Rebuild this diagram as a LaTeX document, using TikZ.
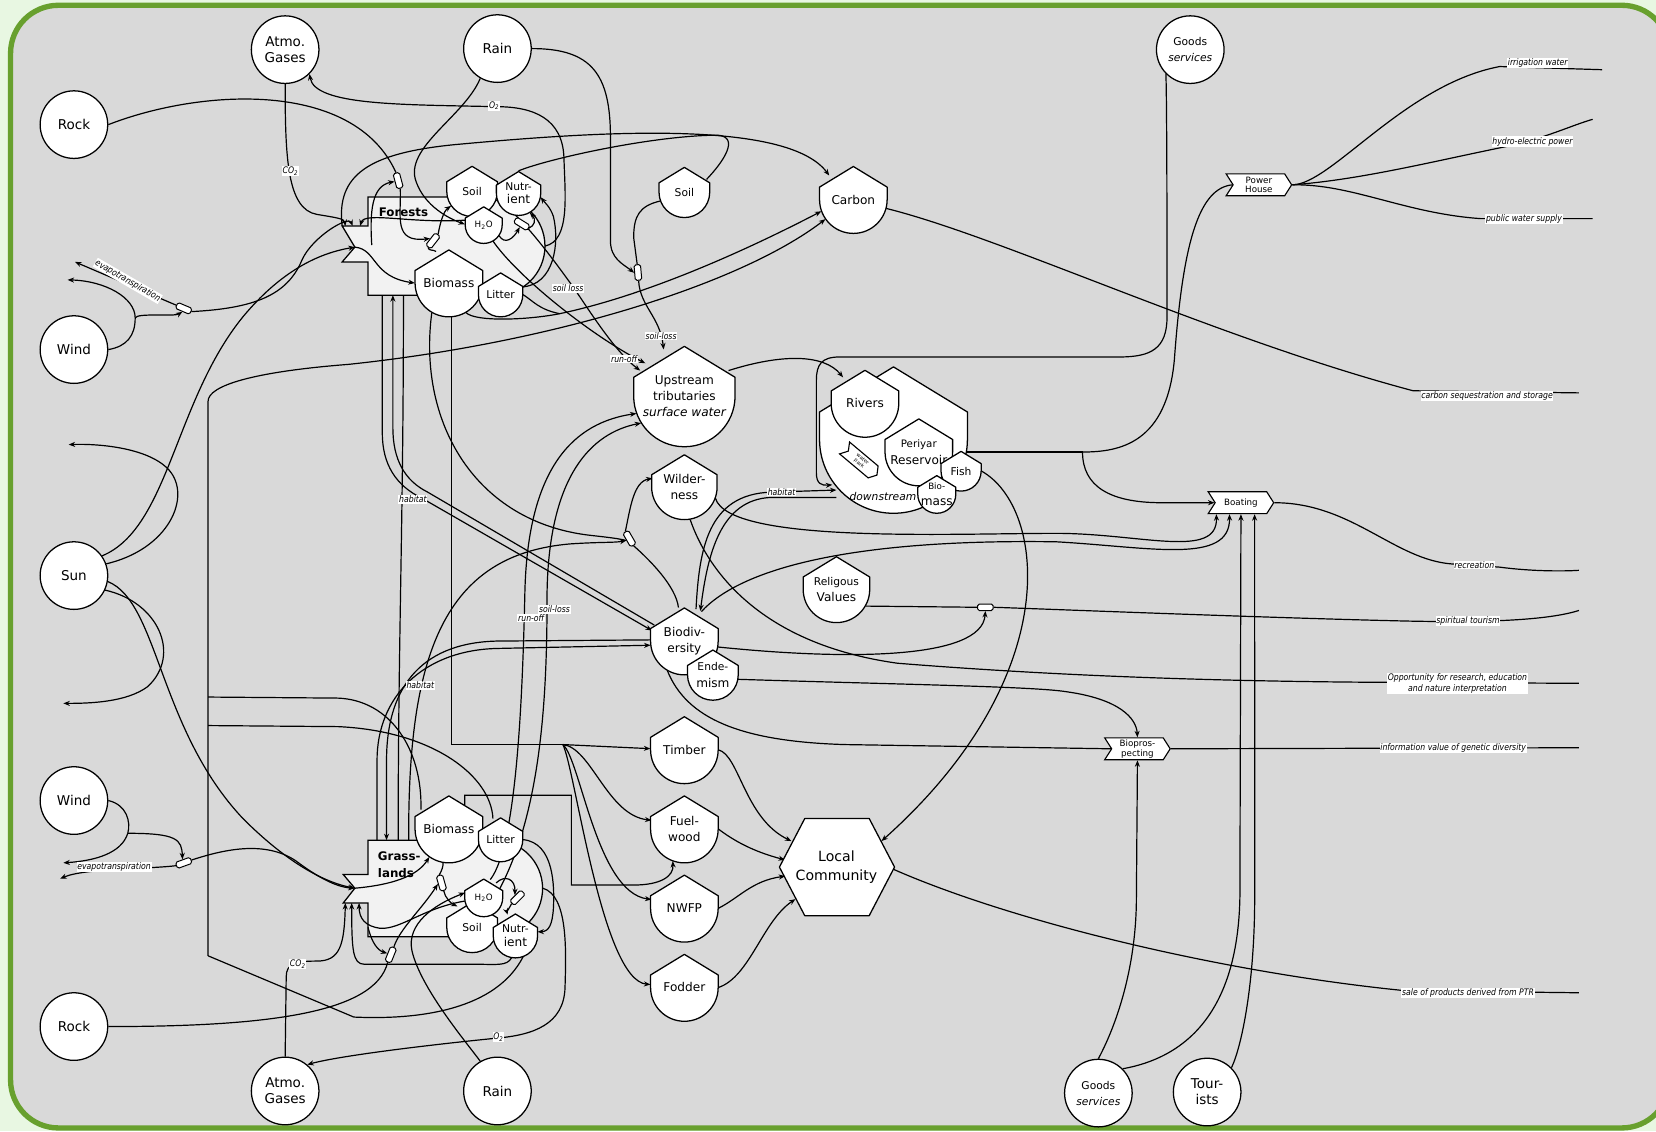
\documentclass[tikz,border=0pt]{standalone}
\usepackage{fontspec}
\setmainfont{DejaVu Sans}
\newfontfamily\narrowfont{DejaVu Sans}[FakeStretch=0.86]
\usetikzlibrary{arrows.meta,shapes.symbols}

\definecolor{panel}{RGB}{217,217,217}
\definecolor{framegreen}{RGB}{104,160,46}
\definecolor{outside}{RGB}{232,247,226}
\definecolor{prodfill}{RGB}{242,242,242}

\newcommand{\srcfont}{\fontsize{9.6}{11.4}\selectfont}
\newcommand{\tankfont}{\fontsize{8.6}{11.6}\selectfont}
\newcommand{\smfont}{\fontsize{7.6}{9}\selectfont}
\newcommand{\xfont}{\fontsize{6.2}{6.9}\selectfont}
\newcommand{\labfont}{\narrowfont\itshape\fontsize{6.4}{7.4}\selectfont}

\pgfdeclarelayer{back}
\pgfdeclarelayer{wires}
\pgfsetlayers{back,wires,main}

\tikzset{
  flow/.style={line width=0.85pt},
  arr/.style={flow, -{Stealth[length=4.6pt, width=3.6pt]}},
  src/.style={circle, draw, line width=0.9pt, fill=white, minimum size=48pt, inner sep=0pt, align=center, font=\srcfont},
  tankline/.style={draw, line width=0.9pt, fill=white, line join=round},
  tanktxt/.style={circle, inner sep=0pt, align=center, font=\tankfont},
  valve/.style={draw, line width=0.7pt, fill=white, rounded corners=1.2pt, minimum width=11pt, minimum height=4.6pt, inner sep=0pt},
  xchg/.style={signal, signal to=east, signal from=west, signal pointer angle=115, draw, line width=0.8pt, fill=white, minimum width=46.5pt, minimum height=15.5pt, inner sep=0.3pt, align=center, font=\xfont},
  lab/.style={fill=white, inner sep=0.5pt, font=\labfont},
  prod/.style={draw, line width=0.9pt, fill=prodfill},
}

% storage tank: name, x, y (centre of the round bottom), half width, text
\newcommand{\tank}[5]{%
  \path[tankline] (#2-#4,#3) -- (#2-#4,#3-0.37*#4) -- (#2,#3-0.98*#4) -- (#2+#4,#3-0.37*#4) -- (#2+#4,#3) arc[start angle=0, end angle=180, radius=#4] -- cycle;
  \node[tanktxt, minimum size=1.5*#4pt] (#1) at (#2,#3) {#5};%
}

\begin{document}
\begin{tikzpicture}[x=0.75pt,y=0.75pt,yscale=-1,xscale=1]
\useasboundingbox (0,0) rectangle (1568,1071);

\begin{pgfonlayer}{back}
  \fill[outside] (0,0) rectangle (1568,1071);
  \draw[draw=framegreen, fill=panel, line width=3.8pt, rounded corners=34pt] (10,5) rectangle (1581,1068);
  %Forests producer
  \path[prod] (348.5,186.5) -- (469.5,186.5) arc[start angle=-90, end angle=90, radius=46.5] -- (348.5,279.5) -- (348.5,248) -- (324,248) -- (336,234) -- (324,214) -- (348.5,214) -- cycle;
  %Grasslands producer
  \path[prod] (348.5,795.5) -- (468,795.5) arc[start angle=-90, end angle=90, radius=45.75] -- (348.5,887) -- (348.5,855) -- (325,855) -- (336,841) -- (325,828) -- (348.5,828) -- cycle;
\end{pgfonlayer}

\node[font=\bfseries\fontsize{8.4}{10}\selectfont] (forestLbl) at (382,201) {Forests};
\node[font=\bfseries\fontsize{8.4}{12}\selectfont, align=left] (grassLbl) at (378,819) {Grass-\\lands};

%ports of the producers
\coordinate (fArc) at (324,214);
\coordinate (fN1) at (327,214);
\coordinate (fN2) at (334,214);
\coordinate (fN3) at (341,214);
\coordinate (fP) at (336,234);
\coordinate (fIn) at (352,232);
\coordinate (fB1) at (362,279.5);
\coordinate (fB2) at (372,279.5);
\coordinate (fB3) at (382,279.5);
\coordinate (fO2) at (516,233);
\coordinate (gT1) at (357,795.5);
\coordinate (gT2) at (366,795.5);
\coordinate (gT3) at (377,795.5);
\coordinate (gT4) at (387,795.5);
\coordinate (gP) at (336,841);
\coordinate (gN1) at (327,855);
\coordinate (gN2) at (333,855);
\coordinate (gN3) at (340,855);
\coordinate (gIn) at (348.5,878);
\coordinate (gO2) at (514,841);
\coordinate (gR) at (440,762);

%Sources
\node[src] (atmoT) at (270,47) {Atmo.\\Gases};
\node[src] (rainT) at (471,46) {Rain};
\node[src] (rockT) at (70,118) {Rock};
\node[src] (windT) at (70,331) {Wind};
\node[src] (sun) at (70,545) {Sun};
\node[src] (windB) at (70,758) {Wind};
\node[src] (rockB) at (70,972) {Rock};
\node[src] (atmoB) at (270,1033) {Atmo.\\Gases};
\node[src] (rainB) at (471,1033) {Rain};
\node[src] (goodsT) at (1127,47) {{\smfont Goods}\\{\smfont\itshape services}};
\node[src] (goodsB) at (1040,1035) {{\smfont Goods}\\{\smfont\itshape services}};
\node[src] (tourists) at (1143,1034) {Tour-\\ists};

%Forest storages
\tank{soilF}{447}{181}{24}{\smfont Soil}
\tank{nutF}{491}{183}{21}{\smfont Nutr-\\[-2pt]ient}
\tank{h2oF}{458}{213}{17.5}{\xfont H\textsubscript{2}O}
\tank{bioF}{425}{268}{32}{Biomass}
\tank{litF}{474}{279}{21}{\smfont Litter}

%Grassland storages
\tank{bioG}{425}{785}{32}{Biomass}
\tank{litG}{474}{795}{21}{\smfont Litter}
\tank{soilG}{447}{878}{24}{\smfont Soil}
\tank{nutG}{488}{886}{21}{\smfont Nutr-\\[-2pt]ient}
\tank{h2oG}{458}{850}{18}{\xfont H\textsubscript{2}O}

%Middle storages
\tank{carbon}{808}{189}{32}{Carbon}
\tank{soilM}{648}{182}{24}{\smfont Soil}
\tank{upstream}{648}{375}{48}{Upstream\\tributaries\\{\itshape surface water}}
\tank{wild}{648}{461}{31}{Wilder-\\ness}
\tank{biodiv}{648}{607}{32}{Biodiv-\\ersity}
\tank{endem}{675}{639}{24}{\smfont Ende-\\mism}
\tank{relig}{792}{558}{31.5}{\smfont Religous\\Values}
\tank{timber}{648}{710}{32}{Timber}
\tank{fuel}{648}{785}{32}{Fuel-\\wood}
\tank{nwfp}{648}{860}{32}{NWFP}
\tank{fodder}{648}{935}{32}{Fodder}

%River system
\tank{downbig}{846}{416}{70}{}
\tank{rivers}{819}{382}{32}{Rivers}
\tank{periyar}{870}{428}{32}{\fontsize{7.3}{10}\selectfont Periyar\\Reservoir}
\tank{fish}{910}{446}{19}{\smfont Fish}
\tank{biomR}{887}{468}{18}{\xfont Bio-\\mass}
\node[xchg, rotate=-40, minimum width=30pt, minimum height=11pt, font=\fontsize{3.6}{3.9}\selectfont] (wpark) at (815,437) {water\\park};
\node[font=\itshape\fontsize{7.6}{9}\selectfont] (dsLbl) at (836,470) {downstream};

%Local community
\path[tankline] (738,821) -- (762,775) -- (823,775) -- (847,821) -- (823,867) -- (762,867) -- cycle;
\node[tanktxt, minimum size=73.5pt, font=\fontsize{10}{13}\selectfont] (lc) at (792,821) {Local\\Community};

%Transactions
\node[xchg] (power) at (1192,175) {Power\\House};
\node[xchg] (boating) at (1175,476) {Boating};
\node[xchg] (biopros) at (1077,709) {Biopros-\\pecting};

%Valves
\node[valve, rotate=105] (vRockF) at (377,171) {};
\node[valve, rotate=52] (vSoilF) at (410,228) {};
\node[valve, rotate=-32] (vNutF) at (494,212) {};
\node[valve, rotate=-23] (vEtF) at (174,292) {};
\node[valve, rotate=95] (vSoilM) at (604,258) {};
\node[valve, rotate=-60] (vWild) at (596,510) {};
\node[valve] (vRelig) at (933,575) {};
\node[valve, rotate=106] (vSoilG) at (418,836) {};
\node[valve, rotate=45] (vNutG) at (490,850) {};
\node[valve, rotate=68] (vRockG) at (370,904) {};
\node[valve, rotate=20] (vEtG) at (174,817) {};

%free ends
\coordinate (wT1) at (128,301);
\coordinate (wB1) at (121,789);
\coordinate (skyF) at (64,265);
\coordinate (etF) at (71,248);
\coordinate (sinkA) at (65,421);
\coordinate (sinkB) at (60,666);
\coordinate (skyG) at (60,817);
\coordinate (etG) at (57,832);
\coordinate (tj) at (533,705);
\coordinate (pj) at (1025,428);
\coordinate (dsIn) at (792,464);
\coordinate (dsIn2) at (792,471);
\coordinate (oIrr) at (1517,66);
\coordinate (oHydro) at (1508,113);
\coordinate (oPub) at (1508,207);
\coordinate (oSeq) at (1495,372);
\coordinate (oRec) at (1495,540);
\coordinate (oSpi) at (1495,578);
\coordinate (oOpp) at (1495,647);
\coordinate (oInfo) at (1495,708);
\coordinate (oSale) at (1495,940);

\begin{pgfonlayer}{wires}
  %forest inputs
  \draw[arr] (atmoT.south) .. controls (270,150) and (272,198) .. (300,203) .. controls (318,206) and (326,207) .. (fN1);
  \draw[arr] (fO2) .. controls (540,228) and (535,185) .. (534,150) .. controls (533,112) and (505,101) .. (470,101) .. controls (380,99) and (298,100) .. (atmoT.-45);
  \draw[arr] (rainT.240) .. controls (440,110) and (382,140) .. (394,172) .. controls (402,195) and (425,207) .. (h2oF.178);
  \draw[flow] (rockT.east) .. controls (190,84) and (335,75) .. (vRockF.east);
  \draw[arr] (fIn) .. controls (350,200) and (352,176) .. (vRockF.north);
  \draw[arr] (vRockF.west) .. controls (380,205) and (372,230) .. (vSoilF.north);
  \draw[arr] (vSoilF.east) .. controls (417,210) and (420,200) .. (soilF.215);
  \draw[flow] (bioF.112) .. controls (410,236) and (406,238) .. (vSoilF.west);
  \draw[arr] (fP) .. controls (357,236) and (352,262) .. (bioF.180);
  \draw[arr] (h2oF.-35) .. controls (478,232) and (486,226) .. (vNutF.south);
  \draw[arr] (vNutF.east) .. controls (506,214) and (508,208) .. (nutF.-60);
  \draw[arr] (litF.20) .. controls (525,270) and (530,230) .. (524,205) .. controls (521,196) and (516,192) .. (nutF.-10);
  \draw[arr] (h2oF.165) .. controls (390,212) and (345,200) .. (fN3);
  \draw[arr] (vEtF.east) .. controls (240,292) and (272,280) .. (286,246) .. controls (296,224) and (330,204) .. (fN2);
  \draw[arr] (fArc) .. controls (318,165) and (350,145) .. (430,137) .. controls (560,125) and (745,112) .. (carbon.135);
  \draw[flow] (nutF.north) .. controls (520,150) and (620,128) .. (680,128) .. controls (700,130) and (686,152) .. (soilM.30);
  %forest to carbon and upstream
  \draw[arr] (bioF.-60) .. controls (450,305) and (500,303) .. (530,297) .. controls (620,278) and (720,230) .. (carbon.200);
  \draw[flow] (litF.east) .. controls (505,285) and (510,293) .. (530,297);
  \draw[arr] (197,905) -- (197,380) .. controls (197,365) and (240,352) .. (330,345) .. controls (520,325) and (700,270) .. (carbon.215);
  \draw[arr] (soilF.-20) .. controls (490,200) and (520,240) .. (545,275) .. controls (565,305) and (585,335) .. (upstream.150);
  \draw[arr] (h2oF.-60) .. controls (490,262) and (560,318) .. (upstream.140);
  \draw[arr] (rainT.east) .. controls (560,46) and (578,70) .. (578,130) -- (578,228) .. controls (578,245) and (590,250) .. (vSoilM.north);
  \draw[flow] (soilM.200) .. controls (605,195) and (600,205) .. (600,225) -- (vSoilM.east);
  \draw[arr] (vSoilM.west) .. controls (606,290) and (625,300) .. (upstream.114);
  %wind, sun
  \draw[flow] (windT.east) .. controls (120,328) and (128,318) .. (wT1);
  \draw[arr] (wT1) .. controls (128,282) and (100,266) .. (skyF);
  \draw[arr] (wT1) .. controls (130,296) and (165,300) .. (vEtF.south);
  \draw[arr] (vEtF.west) -- (etF);
  \draw[arr] (sun.35) .. controls (160,500) and (165,380) .. (230,300) .. controls (265,258) and (300,240) .. (fP);
  \draw[arr] (sun.20) .. controls (160,520) and (182,470) .. (160,445) .. controls (140,423) and (90,420) .. (sinkA);
  \draw[arr] (sun.-25) .. controls (150,570) and (172,620) .. (140,650) .. controls (120,665) and (85,666) .. (sinkB);
  \draw[arr] (sun.-10) .. controls (150,570) and (150,690) .. (230,775) .. controls (270,815) and (305,835) .. (gP);
  %bus to grassland
  \draw[flow] (197,660) -- (320,661) .. controls (370,663) and (400,710) .. (bioG.145);
  \draw[flow] (197,687) -- (320,688) .. controls (410,692) and (465,735) .. (litG.110);
  \draw[flow] (197,905) -- (335,963) .. controls (400,966) and (470,955) .. (nutG.-70);
  %forest and grassland links
  \draw[flow] (fB3) .. controls (382,500) and (377,600) .. (gT3);
  \draw[arr] (fB1) -- (362,410) .. controls (362,440) and (375,460) .. (400,472) -- (biodiv.162);
  \draw[arr] (biodiv.152) -- (405,466) .. controls (383,455) and (372,435) .. (372,405) -- (fB2);
  \draw[arr] (gT1) -- (357,720) .. controls (357,660) and (400,616) .. (470,614) -- (biodiv.187);
  \draw[arr] (biodiv.178) -- (470,607) .. controls (395,609) and (366,655) .. (366,720) -- (gT2);
  \draw[flow] (bioF.-120) .. controls (395,400) and (450,495) .. (560,507) .. controls (578,509) and (586,510) .. (vWild.south);
  \draw[arr] (gT4) .. controls (386,620) and (420,525) .. (540,515) .. controls (570,513) and (582,514) .. (vWild.south);
  \draw[flow] (biodiv.100) .. controls (640,555) and (615,530) .. (vWild.east);
  \draw[arr] (vWild.west) .. controls (597,480) and (600,456) .. (wild.165);
  %grassland inputs
  \draw[flow] (windB.east) .. controls (120,762) and (124,778) .. (wB1);
  \draw[arr] (wB1) .. controls (168,789) and (172,795) .. (vEtG.north);
  \draw[arr] (wB1) .. controls (115,808) and (90,815) .. (skyG);
  \draw[arr] (vEtG.west) .. controls (140,823) and (80,822) .. (etG);
  \draw[arr] (vEtG.east) .. controls (210,805) and (250,795) .. (280,815) .. controls (300,830) and (318,840) .. (gP);
  \draw[arr] (atmoB.north) -- (271,925) .. controls (271,912) and (280,910) .. (300,910) .. controls (322,910) and (326,895) .. (gN1);
  \draw[arr] (nutG.-100) .. controls (480,915) and (470,913) .. (450,913) -- (345,913) .. controls (334,913) and (333,900) .. (gN2);
  \draw[arr] (h2oG.190) .. controls (400,860) and (380,880) .. (360,879) .. controls (346,877) and (340,870) .. (gN3);
  \draw[arr] (gO2) .. controls (538,848) and (536,900) .. (535,935) .. controls (534,970) and (505,980) .. (470,983) .. controls (400,990) and (320,1000) .. (atmoB.50);
  \draw[arr] (rainB.120) .. controls (440,985) and (398,935) .. (390,900) .. controls (385,875) and (410,857) .. (h2oG.165);
  \draw[flow] (rockB.east) .. controls (250,972) and (355,960) .. (vRockG.west);
  \draw[arr] (gIn) .. controls (352,893) and (358,900) .. (vRockG.north);
  \draw[arr] (vRockG.east) .. controls (378,880) and (400,860) .. (vSoilG.north);
  \draw[arr] (vSoilG.west) .. controls (421,850) and (428,856) .. (soilG.125);
  \draw[flow] (bioG.-100) .. controls (420,820) and (418,825) .. (vSoilG.east);
  \draw[arr] (gP) .. controls (370,838) and (395,830) .. (bioG.235);
  \draw[arr] (h2oG.50) .. controls (478,828) and (488,832) .. (vNutG.north);
  \draw[arr] (vNutG.west) .. controls (482,860) and (480,864) .. (nutG.110);
  \draw[arr] (litG.east) .. controls (525,798) and (525,840) .. (524,860) .. controls (523,875) and (520,882) .. (nutG.10);
  \draw[arr] (h2oG.70) .. controls (490,800) and (495,650) .. (497,560) .. controls (500,440) and (545,400) .. (upstream.200);
  \draw[arr] (soilG.50) .. controls (515,780) and (518,650) .. (518,560) .. controls (520,450) and (560,410) .. (upstream.212);
  %products
  \draw[flow] (bioF.-85) |- (tj);
  \draw[arr] (tj) -- (timber.178);
  \draw[arr] (tj) .. controls (560,708) and (575,772) .. (fuel.165);
  \draw[arr] (tj) .. controls (550,720) and (565,845) .. (nwfp.165);
  \draw[arr] (tj) .. controls (545,730) and (570,928) .. (fodder.175);
  \draw[arr] (gR) -- (440,753) -- (541,753) -- (541,838) -- (600,838) .. controls (625,838) and (638,830) .. (fuel.-110);
  \draw[arr] (timber.east) .. controls (700,715) and (705,775) .. (lc.150);
  \draw[arr] (fuel.east) .. controls (700,800) and (720,808) .. (lc.172);
  \draw[arr] (nwfp.east) .. controls (700,850) and (712,834) .. (lc.190);
  \draw[arr] (fodder.east) .. controls (710,925) and (722,872) .. (lc.218);
  \draw[arr] (fish.east) .. controls (990,480) and (1010,640) .. (lc.30);
  \draw[flow] (lc.center) -- (lc.east) .. controls (950,870) and (1150,920) .. (1330,938) -- (oSale);
  %wilderness and biodiversity
  \draw[arr] (wild.-20) .. controls (690,515) and (900,505) .. (1000,505) .. controls (1080,505) and (1153,530) .. (boating.-155);
  \draw[arr] (biodiv.60) .. controls (700,540) and (800,510) .. (1000,513) .. controls (1090,518) and (1165,535) .. (boating.-135);
  \draw[flow] (wild.-80) .. controls (670,540) and (720,610) .. (850,628) .. controls (1000,640) and (1150,645) .. (1300,646) -- (oOpp);
  \draw[arr] (biodiv.70) .. controls (662,520) and (670,468) .. (730,466) -- (dsIn);
  \draw[arr] (dsIn2) -- (730,471) .. controls (682,473) and (670,525) .. (biodiv.62);
  \draw[flow] (relig.-30) -- (vRelig.west);
  \draw[arr] (biodiv.-10) .. controls (800,625) and (930,625) .. (vRelig.south);
  \draw[flow] (vRelig.east) .. controls (1000,577) and (1200,585) .. (1330,588) .. controls (1420,590) and (1470,586) .. (oSpi);
  \draw[arr] (endem.-10) .. controls (850,648) and (980,650) .. (1010,655) .. controls (1060,662) and (1076,680) .. (biopros.north);
  \draw[flow] (biodiv.-120) .. controls (650,680) and (700,702) .. (800,705) -- (biopros.west);
  \draw[flow] (biopros.east) -- (oInfo);
  %rivers
  \draw[arr] (upstream.30) .. controls (740,335) and (780,335) .. (rivers.130);
  \draw[arr] (goodsT.-135) .. controls (1105,100) and (1105,250) .. (1105,300) .. controls (1105,330) and (1090,338) .. (1060,338) -- (795,338) .. controls (778,338) and (773,345) .. (773,360) -- (773,448) .. controls (773,458) and (778,460) .. (788,459);
  \draw[arr] (wpark.east) .. controls (835,458) and (842,458) .. (periyar.220);
  \draw[flow] (periyar.east) -- (pj);
  \draw[flow] (pj) .. controls (1060,428) and (1105,420) .. (1112,340) .. controls (1120,230) and (1135,178) .. (power.west);
  \draw[arr] (pj) .. controls (1025,460) and (1050,476) .. (1100,476) -- (boating.west);
  \draw[flow] (power.east) .. controls (1260,175) and (1330,80) .. (1420,63) -- (oIrr);
  \draw[flow] (power.east) .. controls (1290,170) and (1360,152) .. (1430,138) .. controls (1465,130) and (1490,118) .. (oHydro);
  \draw[flow] (power.east) .. controls (1280,174) and (1330,202) .. (1402,207) -- (oPub);
  \draw[flow] (carbon.-15) .. controls (950,225) and (1150,320) .. (1338,370) -- (oSeq);
  \draw[flow] (boating.east) .. controls (1280,476) and (1320,530) .. (1375,534) -- (1420,537) .. controls (1450,541) and (1480,541) .. (oRec);
  \draw[arr] (goodsB.north) .. controls (1060,965) and (1076,910) .. (1076,850) -- (biopros.south);
  \draw[arr] (goodsB.45) .. controls (1130,1000) and (1172,950) .. (1174,850) -- (boating.south);
  \draw[arr] (tourists.45) .. controls (1176,990) and (1188,930) .. (1188,850) -- (boating.-40);
\end{pgfonlayer}

%line labels
\node[lab] (lCO2a) at (275,162) {CO\textsubscript{2}};
\node[lab] (lO2a) at (468,100) {O\textsubscript{2}};
\node[lab] (lSoilLoss) at (538,273) {soil loss};
\node[lab] (lSoilLossM) at (626,318) {soil-loss};
\node[lab] (lRunOff) at (591,340) {run-off};
\node[lab, rotate=-30] (lEtF) at (121,266) {evapotranspiration};
\node[lab] (lEtG) at (108,821) {evapotranspiration};
\node[lab] (lHabF) at (391,473) {habitat};
\node[lab] (lHabG) at (398,649) {habitat};
\node[lab] (lHabR) at (740,466) {habitat};
\node[lab] (lSoilLossG) at (525,577) {soil-loss};
\node[lab] (lRunOffG) at (503,585) {run-off};
\node[lab] (lO2b) at (472,982) {O\textsubscript{2}};
\node[lab] (lCO2b) at (282,913) {CO\textsubscript{2}};
\node[lab] (lIrr) at (1456,60) {irrigation water};
\node[lab] (lHydro) at (1451,134) {hydro-electric power};
\node[lab] (lPub) at (1443,207) {public water supply};
\node[lab] (lSeq) at (1408,375) {carbon sequestration and storage};
\node[lab] (lRec) at (1396,535) {recreation};
\node[lab] (lSpi) at (1390,588) {spiritual tourism};
\node[lab, align=center] (lOpp) at (1380,647) {Opportunity for research, education\\and nature interpretation};
\node[lab] (lInfo) at (1376,708) {information value of genetic diversity};
\node[lab] (lSale) at (1390,940) {sale of products derived from PTR};
\end{tikzpicture}
\end{document}
